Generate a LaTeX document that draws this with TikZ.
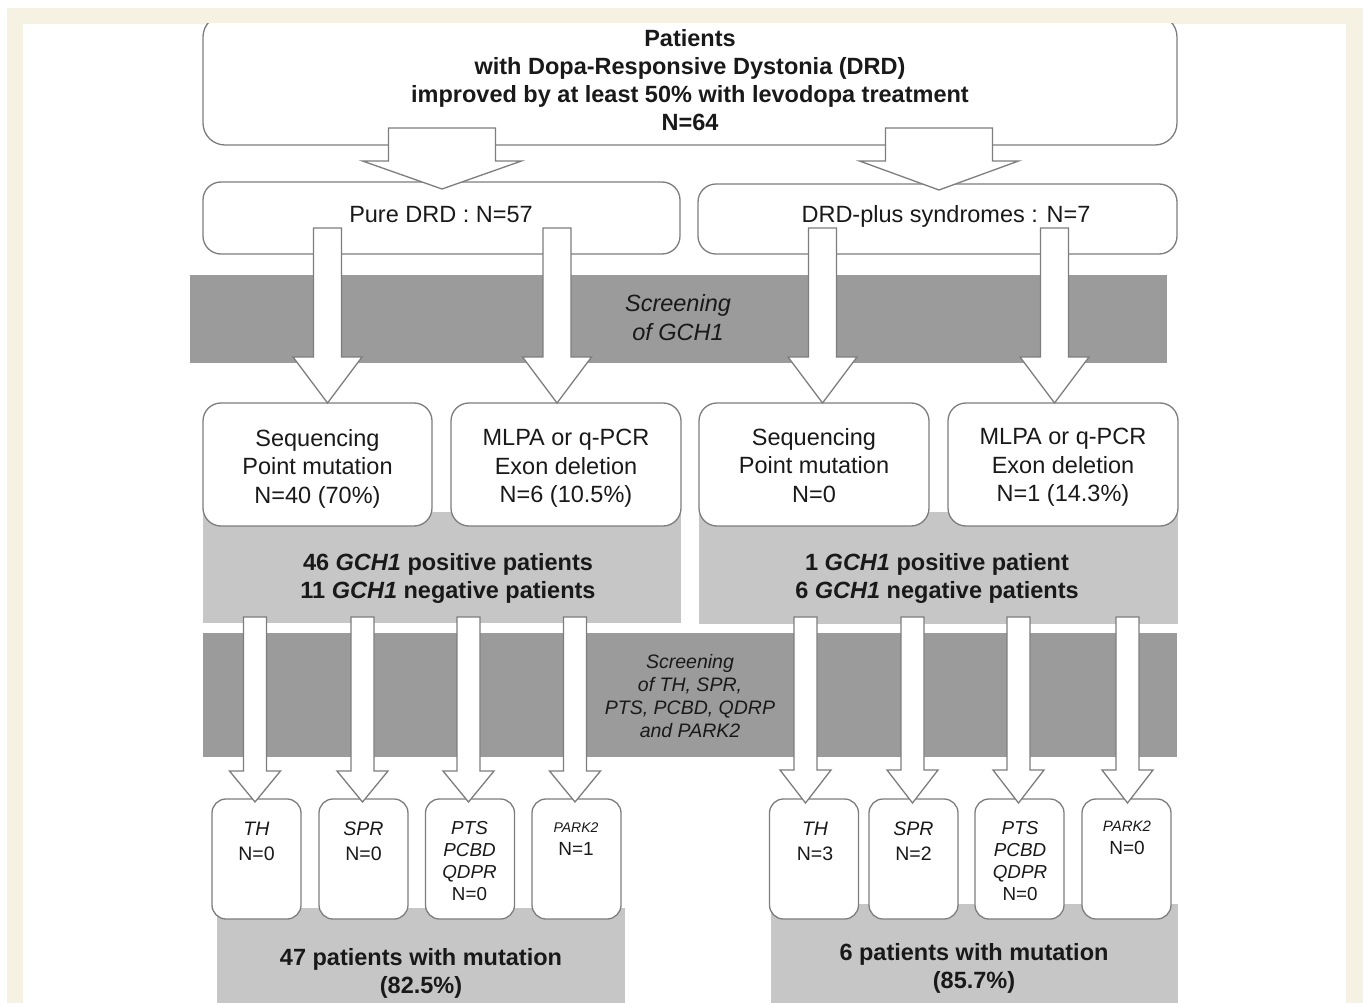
\documentclass[tikz,border=0pt]{standalone}
\usepackage{fontspec}
\setmainfont{Liberation Sans}
\usetikzlibrary{calc}
\definecolor{cream}{RGB}{245,241,227}
\definecolor{lgray}{RGB}{125,125,125}
\definecolor{band}{RGB}{155,155,155}
\definecolor{lbox}{RGB}{198,198,198}
\definecolor{ink}{RGB}{25,25,25}
% #1 start coordinate, #2 tip coordinate, #3 half shaft width, #4 half head width, #5 head length
\newcommand{\blockarrow}[5]{%
  \draw[barr] let \p1=(#1), \p2=(#2) in
    (\x2-#3pt,\y1) -- (\x2-#3pt,\y2+#5pt) -- (\x2-#4pt,\y2+#5pt) -- (\x2,\y2)
    -- (\x2+#4pt,\y2+#5pt) -- (\x2+#3pt,\y2+#5pt) -- (\x2+#3pt,\y1) -- cycle;}
\begin{document}
\begin{tikzpicture}[x=1pt,y=-1pt,
  rbox/.style={draw=lgray, line width=1.3pt, fill=white, rounded corners=18pt, inner sep=0pt},
  sbox/.style={rbox, rounded corners=14pt, minimum width=89pt, minimum height=120pt},
  barr/.style={draw=lgray, line width=1.3pt, fill=white, line join=miter},
  bandbox/.style={fill=band, draw=none, inner sep=0pt},
  lightbox/.style={fill=lbox, draw=none, inner sep=0pt},
  big/.style={text=ink, font=\fontsize{23.5}{28.5}\selectfont, align=center, inner sep=0pt},
  bigb/.style={text=ink, font=\fontsize{23.5}{28}\selectfont\bfseries, align=center, inner sep=0pt},
  small/.style={text=ink, align=center, inner sep=0pt, font=\fontsize{19.5}{25}\selectfont},
  smallp/.style={text=ink, align=center, inner sep=0pt, font=\fontsize{18.8}{22}\selectfont},
]
\useasboundingbox (0,0) rectangle (1363,1003);
% frame
\fill[white] (0,0) rectangle (1363,1003);
\fill[cream] (7,8) rectangle (1363,1003);
\fill[white] (23,24) rectangle (1346,1003);

% top box
\begin{scope}
  \clip (23,24) rectangle (1346,1003);
  \node[rbox, rounded corners=22pt, minimum width=974pt, minimum height=130pt] (top) at (690,80) {};
\end{scope}
\node[bigb] (toptext) at (690,80) {Patients\\with Dopa-Responsive Dystonia (DRD)\\improved by at least 50\% with levodopa treatment\\N=64};

% first split
\node[rbox, minimum width=477pt, minimum height=72pt] (pure) at (441.5,218) {};
\node[big] (puretext) at (441,215) {Pure DRD : N=57};
\node[rbox, minimum width=479pt, minimum height=70pt] (plus) at (937.5,219) {};
\node[big] (plustext) at (946,216) {DRD-plus syndromes : N=7};

\coordinate (a1s) at (442,128); \coordinate (a1t) at (442,189);
\coordinate (a2s) at (939,128); \coordinate (a2t) at (939,190);
\blockarrow{a1s}{a1t}{53.5}{79.5}{28}
\blockarrow{a2s}{a2t}{53.5}{79.5}{29}

% GCH1 screening band
\node[bandbox, minimum width=977pt, minimum height=88pt] (band1) at (678.5,319) {};
\node[text=ink, align=center, inner sep=0pt, font=\fontsize{23.5}{29}\selectfont\itshape] (band1text) at (678,318) {Screening\\of GCH1};

% GCH1 result panels
\node[lightbox, minimum width=478pt, minimum height=111pt] (posL) at (442,567.5) {};
\node[lightbox, minimum width=479pt, minimum height=112pt] (posR) at (938.5,568) {};

\node[rbox, minimum width=229pt, minimum height=123pt] (seqL) at (317.5,464.5) {};
\node[rbox, minimum width=230pt, minimum height=123pt] (mlpaL) at (566,464.5) {};
\node[rbox, minimum width=230pt, minimum height=123pt] (seqR) at (814,464.5) {};
\node[rbox, minimum width=230pt, minimum height=123pt] (mlpaR) at (1063,464.5) {};
\node[big] (seqLtext) at (317.5,468.5) {Sequencing\\Point mutation\\N=40 (70\%)};
\node[big] (mlpaLtext) at (566,468.5) {MLPA or q-PCR\\Exon deletion\\N=6 (10.5\%)};
\node[big] (seqRtext) at (814,465.5) {Sequencing\\Point mutation\\N=0};
\node[big] (mlpaRtext) at (1063,467.5) {MLPA or q-PCR\\Exon deletion\\N=1 (14.3\%)};

\node[bigb] (posLtext) at (448,578) {46 \textit{GCH1} positive patients\\11 \textit{GCH1} negative patients};
\node[bigb] (posRtext) at (937,578) {1 \textit{GCH1} positive patient\\6 \textit{GCH1} negative patients};

\coordinate (b1s) at (327.5,228); \coordinate (b1t) at (327.5,403);
\coordinate (b2s) at (557,228);   \coordinate (b2t) at (557,403);
\coordinate (b3s) at (822.5,228); \coordinate (b3t) at (822.5,403);
\coordinate (b4s) at (1054.5,228);\coordinate (b4t) at (1054.5,403);
\blockarrow{b1s}{b1t}{14}{34.5}{46}
\blockarrow{b2s}{b2t}{14}{34.5}{46}
\blockarrow{b3s}{b3t}{14}{34.5}{46}
\blockarrow{b4s}{b4t}{14}{34.5}{46}

% second screening band
\node[bandbox, minimum width=974pt, minimum height=124pt] (band2) at (690,695) {};
\node[text=ink, align=center, inner sep=0pt, font=\fontsize{19.5}{23}\selectfont\itshape] (band2text) at (690,696) {Screening\\of TH, SPR,\\PTS, PCBD, QDRP\\and PARK2};

% final panels
\node[lightbox, minimum width=408pt, minimum height=95pt] (mutL) at (421,955.5) {};
\node[lightbox, minimum width=407pt, minimum height=99pt] (mutR) at (974.5,953.5) {};
\node[bigb] (mutLtext) at (421,973) {47 patients with mutation\\(82.5\%)};
\node[bigb] (mutRtext) at (974,968) {6 patients with mutation\\(85.7\%)};

% gene boxes
\node[sbox] (thL) at (256.5,859) {};
\node[sbox] (sprL) at (363.5,859) {};
\node[sbox] (ptsL) at (470,859) {};
\node[sbox] (parkL) at (576.5,859) {};
\node[sbox] (thR) at (814,859) {};
\node[sbox] (sprR) at (913.5,859) {};
\node[sbox] (ptsR) at (1019.5,859) {};
\node[sbox] (parkR) at (1126.5,859) {};

\node[small] (thLtext) at (256.5,841) {\textit{TH}\\N=0};
\node[small] (sprLtext) at (363.5,841) {\textit{SPR}\\N=0};
\node[smallp] (ptsLtext) at (469.5,861) {\textit{PTS}\\\textit{PCBD}\\\textit{QDPR}\\N=0};
\node[small, font=\fontsize{19}{23}\selectfont] (parkLtext) at (576,839) {{\fontsize{14}{23}\selectfont\textit{PARK2}}\\N=1};
\node[small] (thRtext) at (815,841) {\textit{TH}\\N=3};
\node[small] (sprRtext) at (913.5,841) {\textit{SPR}\\N=2};
\node[smallp] (ptsRtext) at (1020,861) {\textit{PTS}\\\textit{PCBD}\\\textit{QDPR}\\N=0};
\node[small, font=\fontsize{19}{23}\selectfont] (parkRtext) at (1127,838) {{\fontsize{15}{23}\selectfont\textit{PARK2}}\\N=0};

\coordinate (c1s) at (255,617);    \coordinate (c1t) at (255,802);
\coordinate (c2s) at (362.5,617);  \coordinate (c2t) at (362.5,802);
\coordinate (c3s) at (468.5,617);  \coordinate (c3t) at (468.5,802);
\coordinate (c4s) at (575,617);    \coordinate (c4t) at (575,802);
\coordinate (c5s) at (805.5,617);  \coordinate (c5t) at (805.5,803);
\coordinate (c6s) at (912.5,617);  \coordinate (c6t) at (912.5,803);
\coordinate (c7s) at (1018.5,617); \coordinate (c7t) at (1018.5,803);
\coordinate (c8s) at (1127.5,617); \coordinate (c8t) at (1127.5,803);
\blockarrow{c1s}{c1t}{11.5}{25.5}{31}
\blockarrow{c2s}{c2t}{11.5}{25.5}{31}
\blockarrow{c3s}{c3t}{11.5}{25.5}{31}
\blockarrow{c4s}{c4t}{11.5}{25.5}{31}
\blockarrow{c5s}{c5t}{11.5}{25.5}{33}
\blockarrow{c6s}{c6t}{11.5}{25.5}{33}
\blockarrow{c7s}{c7t}{11.5}{25.5}{33}
\blockarrow{c8s}{c8t}{11.5}{25.5}{33}
\end{tikzpicture}
\end{document}
